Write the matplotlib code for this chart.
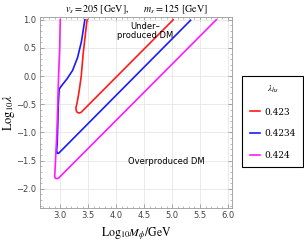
import numpy as np
import matplotlib
matplotlib.use('Agg')
import matplotlib.pyplot as plt
from matplotlib.ticker import MultipleLocator

plt.rcParams['mathtext.fontset'] = 'stix'

# curves: upper branch -> minimum -> straight branch
red_x = [3.48, 3.45, 3.41, 3.375, 3.34, 3.30, 3.28, 3.285, 3.30, 3.33, 3.37, 5.02]
red_y = [1.00, 0.75, 0.40, 0.00, -0.25, -0.48, -0.56, -0.61, -0.64, -0.655, -0.645, 1.00]

blue_x = [3.44, 3.38, 3.31, 3.22, 3.12, 3.04, 2.98, 2.965, 2.955, 2.945, 2.935, 2.945, 2.97, 5.33]
blue_y = [1.00, 0.62, 0.33, 0.10, -0.05, -0.15, -0.23, -0.50, -0.90, -1.20, -1.32, -1.37, -1.37, 0.99]

mag_x = [3.00, 2.99, 2.97, 2.955, 2.94, 2.92, 2.905, 2.90, 2.91, 2.94, 2.97, 5.79]
mag_y = [1.00, 0.50, 0.00, -0.50, -1.00, -1.40, -1.70, -1.77, -1.81, -1.82, -1.81, 1.00]

labels = ['0.423', '0.4234', '0.424']
colors = ['#ff1a1a', '#1a1aff', '#ff1aff']

fig = plt.figure(figsize=(3.04, 2.45), dpi=100)
ax = fig.add_axes([0.132, 0.151, 0.631, 0.780])

for (x, y), lab, c in zip([(red_x, red_y), (blue_x, blue_y), (mag_x, mag_y)], labels, colors):
    ax.plot(x, y, color=c, lw=1.2, label=lab)

ax.set_xlim(2.64, 6.07)
ax.set_ylim(-2.34, 1.05)
ax.xaxis.set_major_locator(MultipleLocator(0.5))
ax.yaxis.set_major_locator(MultipleLocator(0.5))
ax.xaxis.set_minor_locator(MultipleLocator(0.1))
ax.yaxis.set_minor_locator(MultipleLocator(0.1))
ax.grid(True, color='#e6e6e6', lw=0.6)
ax.set_axisbelow(True)
ax.tick_params(which='both', direction='in', top=True, right=True, pad=2.5,
               labelsize=6, labelcolor='#444444', color='#888888')
ax.tick_params(which='major', length=3, width=0.5)
ax.tick_params(which='minor', length=1.5, width=0.4)
for s in ax.spines.values():
    s.set_color('#999999')
    s.set_linewidth(0.6)

ax.text(4.52, 0.80, 'Under\u2013\nproduced DM', ha='center', va='center',
        fontsize=6, linespacing=1.0)
ax.text(4.90, -1.51, 'Overproduced DM', ha='center', va='center', fontsize=6)

ax.set_xlabel(r'$\mathrm{Log}_{10}M_{\phi}/\mathrm{GeV}$', fontsize=8.5, labelpad=3)
ax.set_ylabel(r'$\mathrm{Log}_{10}\lambda$', fontsize=9)
ax.yaxis.set_label_coords(-0.12, 0.5)
ax.set_title(r'$v_s = 205\ [\mathrm{GeV}],\qquad m_s = 125\ [\mathrm{GeV}]$',
             fontsize=7.2, pad=3)

leg = fig.legend(loc='upper left', bbox_to_anchor=(0.797, 0.688), fancybox=False,
                 edgecolor='black', framealpha=1, title=r'$\lambda_{hs}$',
                 prop={'family': 'DejaVu Serif', 'size': 6.5}, title_fontsize=6.5,
                 handlelength=1.2, labelspacing=1.4, borderpad=0.8, handletextpad=0.4,
                 borderaxespad=0)
leg.get_frame().set_linewidth(0.8)

fig.savefig('out.png', dpi=100)
